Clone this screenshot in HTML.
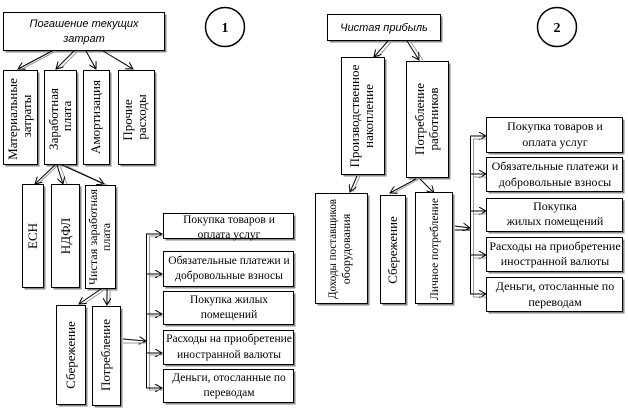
<!DOCTYPE html>
<html><head><meta charset="utf-8"><style>
html,body{margin:0;padding:0;background:#fff;}
svg{display:block;}
text{font-family:"Liberation Serif","DejaVu Serif",serif;font-size:12px;fill:#000;}
.v{font-size:13px;}
.sm{font-size:11.5px;}
.it{font-family:"Liberation Sans","DejaVu Sans",sans-serif;font-style:italic;font-size:11px;}
.b{fill:#fff;stroke:#000;stroke-width:1;}
.s{fill:#888;}
.l{stroke:#000;stroke-width:1;fill:none;}
.g{stroke:#999;stroke-width:1;fill:none;}
</style></head><body>
<svg width="628" height="409" viewBox="0 0 628 409" xmlns="http://www.w3.org/2000/svg">
<defs>
<marker id="a" markerWidth="8" markerHeight="8" refX="7" refY="4" orient="auto" markerUnits="userSpaceOnUse">
<path d="M0,0 L7,4 L0,8" fill="none" stroke="#000" stroke-width="1"/></marker>
</defs>
<rect class="s" x="5.5" y="14.5" width="161" height="38"/>
<rect class="b" x="3.5" y="12.5" width="161" height="38"/>
<text class="it" x="84" y="27" text-anchor="middle">Погашение текущих</text>
<text class="it" x="84" y="42" text-anchor="middle">затрат</text>
<circle cx="225" cy="27" r="19.5" fill="#fff" stroke="#000" stroke-width="1.5"/>
<text x="225" y="32" text-anchor="middle" style="font-weight:bold;font-size:14px">1</text>

<line class="g" x1="56" y1="51" x2="22" y2="69"/><line class="l" x1="52" y1="51" x2="18" y2="69" marker-end="url(#a)"/>
<line class="g" x1="78" y1="51" x2="60" y2="69"/><line class="l" x1="74" y1="51" x2="56" y2="69" marker-end="url(#a)"/>
<line class="l" x1="86" y1="51" x2="96" y2="69" marker-end="url(#a)"/>
<line class="l" x1="103" y1="51" x2="133" y2="69" marker-end="url(#a)"/>

<rect class="s" x="5.5" y="72.5" width="34" height="94"/><rect class="b" x="3.5" y="70.5" width="34" height="94"/>
<rect class="s" x="46.5" y="72.5" width="32" height="94"/><rect class="b" x="44.5" y="70.5" width="32" height="94"/>
<rect class="s" x="85.5" y="72.5" width="26" height="94"/><rect class="b" x="83.5" y="70.5" width="26" height="94"/>
<rect class="s" x="120.5" y="72.5" width="36" height="94"/><rect class="b" x="118.5" y="70.5" width="36" height="94"/>
<text class="v" transform="translate(17,119) rotate(-90)" text-anchor="middle">Материальные</text>
<text class="v" transform="translate(31,116) rotate(-90)" text-anchor="middle">затраты</text>
<text class="v" transform="translate(58,119) rotate(-90)" text-anchor="middle">Заработная</text>
<text class="v" transform="translate(71,116) rotate(-90)" text-anchor="middle">плата</text>
<text class="v" transform="translate(100,117) rotate(-90)" text-anchor="middle">Амортизация</text>
<text class="v" transform="translate(132,120) rotate(-90)" text-anchor="middle">Прочие</text>
<text class="v" transform="translate(146,117) rotate(-90)" text-anchor="middle">расходы</text>

<line class="g" x1="58" y1="165" x2="38" y2="184"/><line class="l" x1="55" y1="165" x2="35" y2="184" marker-end="url(#a)"/>
<line class="g" x1="60" y1="165" x2="67" y2="184"/><line class="l" x1="57" y1="165" x2="63" y2="184" marker-end="url(#a)"/>
<line class="g" x1="64" y1="165" x2="107" y2="185"/><line class="l" x1="62" y1="165" x2="104" y2="184" marker-end="url(#a)"/>

<rect class="s" x="24.5" y="186.5" width="21" height="103"/><rect class="b" x="22.5" y="184.5" width="21" height="103"/>
<rect class="s" x="53.5" y="186.5" width="28" height="103"/><rect class="b" x="51.5" y="184.5" width="28" height="103"/>
<rect class="s" x="87.5" y="187.5" width="30" height="103"/><rect class="b" x="85.5" y="185.5" width="30" height="103"/>
<text class="v" transform="translate(37,236) rotate(-90)" text-anchor="middle">ЕСН</text>
<text class="v" transform="translate(70,236) rotate(-90)" text-anchor="middle">НДФЛ</text>
<text transform="translate(97,237) rotate(-90)" text-anchor="middle" textLength="96" lengthAdjust="spacingAndGlyphs">Чистая заработная</text>
<text transform="translate(110,237) rotate(-90)" text-anchor="middle">плата</text>

<line class="g" x1="104" y1="290" x2="84" y2="304"/><line class="l" x1="101" y1="289" x2="79" y2="304" marker-end="url(#a)"/>
<line class="g" x1="110" y1="289" x2="110" y2="305"/><line class="l" x1="107" y1="289" x2="107" y2="305" marker-end="url(#a)"/>

<rect class="s" x="58.5" y="307.5" width="29" height="99"/><rect class="b" x="56.5" y="305.5" width="29" height="99"/>
<rect class="s" x="94.5" y="308.5" width="28" height="99"/><rect class="b" x="92.5" y="306.5" width="28" height="99"/>
<text class="v" transform="translate(75,355) rotate(-90)" text-anchor="middle">Сбережение</text>
<text class="v" transform="translate(110,355) rotate(-90)" text-anchor="middle">Потребление</text>

<line class="l" x1="123" y1="339" x2="146" y2="341" marker-end="url(#a)"/>
<line class="g" x1="123" y1="343" x2="146" y2="343"/>
<line class="l" x1="146.5" y1="234" x2="146.5" y2="388"/>
<line class="g" x1="149.5" y1="236" x2="149.5" y2="390"/>
<line class="l" x1="146" y1="234" x2="162" y2="234" marker-end="url(#a)"/><line class="g" x1="149" y1="236" x2="163" y2="236"/>
<line class="l" x1="146" y1="274" x2="162" y2="274" marker-end="url(#a)"/><line class="g" x1="149" y1="276" x2="163" y2="276"/>
<line class="l" x1="146" y1="314" x2="162" y2="314" marker-end="url(#a)"/><line class="g" x1="149" y1="316" x2="163" y2="316"/>
<line class="l" x1="146" y1="353" x2="162" y2="353" marker-end="url(#a)"/><line class="g" x1="149" y1="355" x2="163" y2="355"/>
<line class="l" x1="146" y1="388" x2="162" y2="388" marker-end="url(#a)"/><line class="g" x1="149" y1="390" x2="163" y2="390"/>

<rect class="s" x="165.5" y="215.5" width="130" height="25"/><rect class="b" x="163.5" y="213.5" width="130" height="25"/>
<rect class="s" x="165.5" y="253.5" width="130" height="35"/><rect class="b" x="163.5" y="251.5" width="130" height="35"/>
<rect class="s" x="165.5" y="293.5" width="130" height="33"/><rect class="b" x="163.5" y="291.5" width="130" height="33"/>
<rect class="s" x="165.5" y="332.5" width="130" height="34"/><rect class="b" x="163.5" y="330.5" width="130" height="34"/>
<rect class="s" x="165.5" y="371.5" width="130" height="33"/><rect class="b" x="163.5" y="369.5" width="130" height="33"/>
<text class="sm" x="229" y="223" text-anchor="middle">Покупка товаров и</text>
<text class="sm" x="229" y="238" text-anchor="middle">оплата услуг</text>
<text class="sm" x="229" y="264" text-anchor="middle">Обязательные платежи и</text>
<text class="sm" x="229" y="279" text-anchor="middle">добровольные взносы</text>
<text class="sm" x="229" y="303" text-anchor="middle">Покупка жилых</text>
<text class="sm" x="229" y="318" text-anchor="middle">помещений</text>
<text class="sm" x="229" y="342" text-anchor="middle">Расходы на приобретение</text>
<text class="sm" x="229" y="358" text-anchor="middle">иностранной валюты</text>
<text class="sm" x="229" y="381" text-anchor="middle">Деньги, отосланные по</text>
<text class="sm" x="229" y="396" text-anchor="middle">переводам</text>

<rect class="s" x="329.5" y="16.5" width="113" height="26"/><rect class="b" x="327.5" y="14.5" width="113" height="26"/>
<text class="it" x="384" y="31" text-anchor="middle">Чистая прибыль</text>
<circle cx="557" cy="27" r="19.5" fill="#fff" stroke="#000" stroke-width="1.5"/>
<text x="557" y="32" text-anchor="middle" style="font-weight:bold;font-size:14px">2</text>

<line class="g" x1="392" y1="41" x2="378" y2="57"/><line class="l" x1="388" y1="41" x2="374" y2="57" marker-end="url(#a)"/>
<line class="g" x1="410" y1="41" x2="423" y2="60"/><line class="l" x1="407" y1="41" x2="419" y2="60" marker-end="url(#a)"/>

<rect class="s" x="343.5" y="59.5" width="43" height="117"/><rect class="b" x="341.5" y="57.5" width="43" height="117"/>
<rect class="s" x="408.5" y="63.5" width="42" height="116"/><rect class="b" x="406.5" y="61.5" width="42" height="116"/>
<text class="v" transform="translate(359,116) rotate(-90)" text-anchor="middle">Производственное</text>
<text class="v" transform="translate(373,116) rotate(-90)" text-anchor="middle">накопление</text>
<text class="v" transform="translate(424,119) rotate(-90)" text-anchor="middle">Потребление</text>
<text class="v" transform="translate(438,119) rotate(-90)" text-anchor="middle">работников</text>

<line class="g" x1="360" y1="176" x2="353" y2="192"/><line class="l" x1="357" y1="176" x2="350" y2="192" marker-end="url(#a)"/>
<line class="g" x1="419" y1="179" x2="394" y2="193"/><line class="l" x1="416" y1="179" x2="390" y2="193" marker-end="url(#a)"/>
<line class="l" x1="420" y1="179" x2="434" y2="193" marker-end="url(#a)"/>

<rect class="s" x="317.5" y="195.5" width="52" height="110"/><rect class="b" x="315.5" y="193.5" width="52" height="110"/>
<rect class="s" x="382.5" y="197.5" width="25" height="108"/><rect class="b" x="380.5" y="195.5" width="25" height="108"/>
<rect class="s" x="417.5" y="194.5" width="37" height="111"/><rect class="b" x="415.5" y="192.5" width="37" height="111"/>
<text transform="translate(336,249) rotate(-90)" text-anchor="middle" textLength="100" lengthAdjust="spacingAndGlyphs">Доходы поставщиков</text>
<text transform="translate(350,249) rotate(-90)" text-anchor="middle">оборудования</text>
<text class="v" transform="translate(397,250) rotate(-90)" text-anchor="middle">Сбережение</text>
<text transform="translate(438,249) rotate(-90)" text-anchor="middle" textLength="102" lengthAdjust="spacingAndGlyphs">Личное потребление</text>

<line class="l" x1="455" y1="226" x2="470" y2="228" marker-end="url(#a)"/>
<line class="l" x1="455" y1="230" x2="470" y2="230"/>
<line class="l" x1="470.5" y1="136" x2="470.5" y2="294"/>
<line class="g" x1="473.5" y1="139" x2="473.5" y2="297"/>
<line class="l" x1="470" y1="136" x2="486" y2="136" marker-end="url(#a)"/><line class="g" x1="473" y1="139" x2="487" y2="139"/>
<line class="l" x1="470" y1="174" x2="486" y2="174" marker-end="url(#a)"/><line class="g" x1="473" y1="177" x2="487" y2="177"/>
<line class="l" x1="470" y1="211" x2="486" y2="211" marker-end="url(#a)"/><line class="g" x1="473" y1="214" x2="487" y2="214"/>
<line class="l" x1="470" y1="255" x2="486" y2="255" marker-end="url(#a)"/><line class="g" x1="473" y1="258" x2="487" y2="258"/>
<line class="l" x1="470" y1="294" x2="486" y2="294" marker-end="url(#a)"/><line class="g" x1="473" y1="297" x2="487" y2="297"/>

<rect class="s" x="488.5" y="119.5" width="136" height="35"/><rect class="b" x="486.5" y="117.5" width="136" height="35"/>
<rect class="s" x="488.5" y="159.5" width="136" height="34"/><rect class="b" x="486.5" y="157.5" width="136" height="34"/>
<rect class="s" x="488.5" y="200.5" width="136" height="33"/><rect class="b" x="486.5" y="198.5" width="136" height="33"/>
<rect class="s" x="488.5" y="239.5" width="136" height="34"/><rect class="b" x="486.5" y="237.5" width="136" height="34"/>
<rect class="s" x="488.5" y="279.5" width="136" height="34"/><rect class="b" x="486.5" y="277.5" width="136" height="34"/>
<text x="555" y="130" text-anchor="middle">Покупка товаров и</text>
<text x="555" y="146" text-anchor="middle">оплата услуг</text>
<text x="555" y="170" text-anchor="middle">Обязательные платежи и</text>
<text x="555" y="186" text-anchor="middle">добровольные взносы</text>
<text x="555" y="210" text-anchor="middle">Покупка</text>
<text x="555" y="225" text-anchor="middle">жилых помещений</text>
<text x="555" y="250" text-anchor="middle">Расходы на приобретение</text>
<text x="555" y="265" text-anchor="middle">иностранной валюты</text>
<text x="555" y="290" text-anchor="middle">Деньги, отосланные по</text>
<text x="555" y="306" text-anchor="middle">переводам</text>
</svg>
</body></html>
